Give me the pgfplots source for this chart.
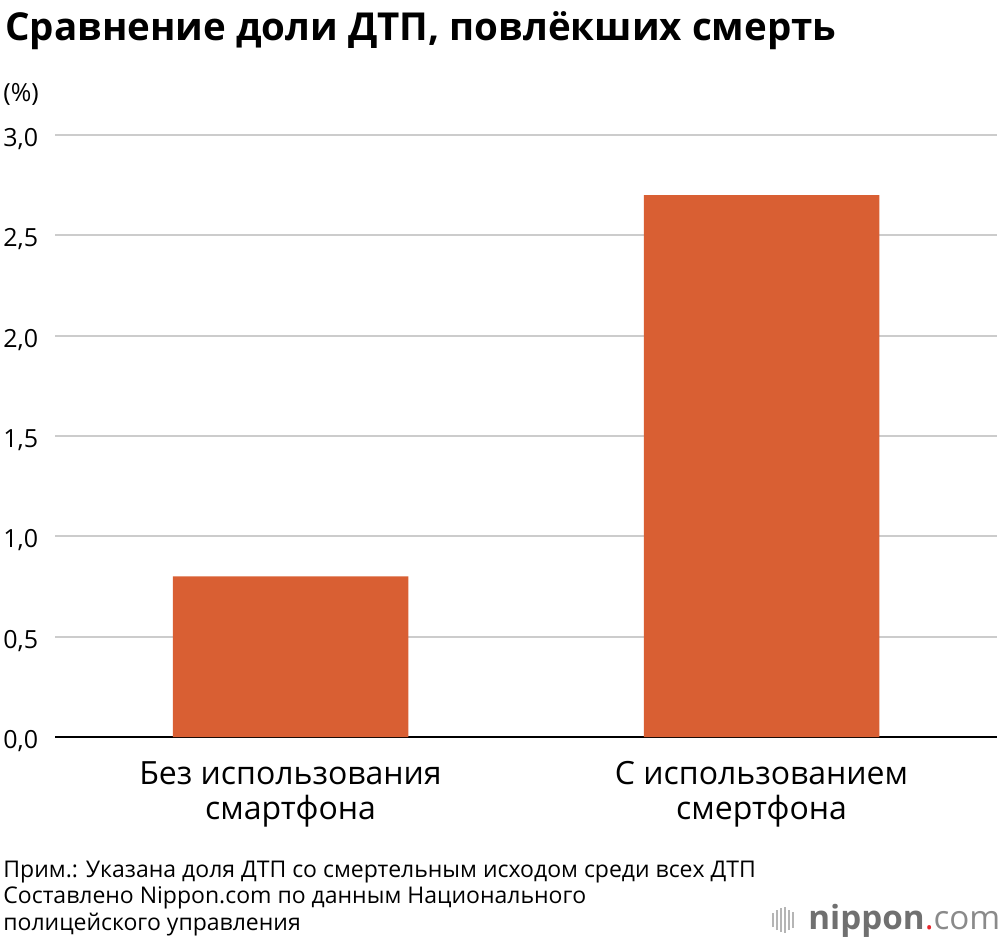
\documentclass[border=0pt]{standalone}
\usepackage{fontspec}
\setmainfont{Open Sans}
\usepackage{pgfplots}
\pgfplotsset{compat=1.18}
\definecolor{barc}{HTML}{D95F33}
\definecolor{gridc}{HTML}{CCCCCC}
\definecolor{logog}{HTML}{707070}
\definecolor{logol}{HTML}{8A8A8A}
\definecolor{logoi}{HTML}{B5B5B5}
\definecolor{logor}{HTML}{E8262C}
\begin{document}
\begin{tikzpicture}
\path[use as bounding box] (0,0) rectangle (500pt,-471pt);
\node[anchor=base west, inner sep=0pt, font=\bfseries\fontsize{19.25}{22}\selectfont] at (2.5pt,-20pt) {Сравнение доли ДТП, повлёкших смерть};
\node[anchor=base west, inner sep=0pt, font=\fontsize{12.5}{14}\selectfont] at (1.5pt,-50.5pt) {(\%)};
\begin{axis}[
  at={(27.5pt,-368.5pt)}, anchor=south west,
  scale only axis, width=471pt, height=301pt,
  xmin=-0.5, xmax=1.5, ymin=0, ymax=3,
  ybar, bar width=0.5, bar shift=0pt,
  xtick={0,1}, xticklabels={{Без использования\\смартфона},{С использованием\\смертфона}},
  ytick={0,0.5,1,1.5,2,2.5,3},
  /pgf/number format/assume math mode=true,
  yticklabel={\pgfmathprintnumber[fixed,fixed zerofill,precision=1,use comma]{\tick}},
  yticklabel style={anchor=west, inner sep=0pt, xshift=-26pt, yshift=-2pt, font=\fontsize{12.5}{14}\selectfont},
  xticklabel style={align=center, anchor=north, inner sep=0pt, yshift=-12pt, font=\fontsize{16}{17.5}\selectfont},
  major tick length=0pt,
  axis x line*=bottom, axis y line*=left,
  y axis line style={draw=none},
  x axis line style={black, line width=1pt, -},
  ymajorgrids, grid style={gridc, line width=1pt},
]
\addplot[fill=barc, draw=none] coordinates {(0,0.8) (1,2.7)};
\end{axis}
\node[anchor=base west, inner sep=0pt, font=\fontsize{11.5}{14}\selectfont] at (1.5pt,-438.5pt) {Прим.: Указана доля ДТП со смертельным исходом среди всех ДТП};
\node[anchor=base west, inner sep=0pt, font=\fontsize{11.5}{14}\selectfont] at (1.5pt,-451.5pt) {Составлено Nippon.com по данным Национального};
\node[anchor=base west, inner sep=0pt, font=\fontsize{11.5}{14}\selectfont] at (1.5pt,-465pt) {полицейского управления};
% logo
\foreach \x/\h in {386.5/3.5, 388.5/5, 390.5/6, 392.5/6.5, 394.5/5, 396.5/4}{
  \draw[logoi, line width=0.8pt] (\x pt,-460pt-\h pt) -- (\x pt,-460pt+\h pt);
}
\node[anchor=base west, inner sep=0pt, font=\fontsize{16.6}{18}\selectfont] at (404pt,-464.5pt) {\textcolor{logog}{\bfseries nippon}\textcolor{logor}{.}\textcolor{logol}{com}};
\end{tikzpicture}
\end{document}
